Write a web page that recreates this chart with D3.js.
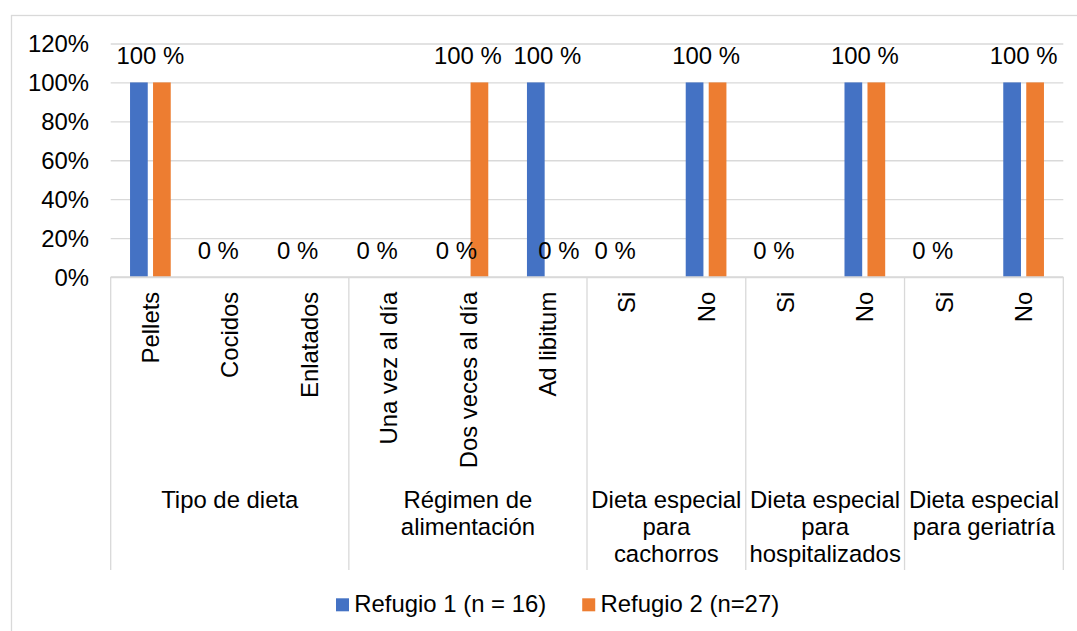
<!DOCTYPE html>
<html>
<head>
<meta charset="utf-8">
<script src="https://cdn.jsdelivr.net/npm/d3@7"></script>
<style>
  html, body { margin: 0; padding: 0; background: #fff; }
  svg { display: block; }
  text { font-family: "Liberation Sans", Arial, sans-serif; fill: #000; }
</style>
</head>
<body>
<svg id="chart" width="1077" height="631"></svg>
<script>
// ---- data ----
const categories = ["Pellets", "Cocidos", "Enlatados", "Una vez al día", "Dos veces al día", "Ad libitum", "Si", "No", "Si", "No", "Si", "No"];
const groupNames = [["Tipo de dieta"], ["Régimen de", "alimentación"], ["Dieta especial", "para", "cachorros"], ["Dieta especial", "para", "hospitalizados"], ["Dieta especial", "para geriatría"]];
const groupSizes = [3, 3, 2, 2, 2];
const seriesNames = ["Refugio 1 (n = 16)", "Refugio 2 (n=27)"];
const refugio1 = [1, 0, 0, 0, 0, 1, 0, 1, 0, 1, 0, 1];
const refugio2 = [1, 0, 0, 0, 1, 0, 0, 1, 0, 1, 0, 1];
const yTicks = [0, 0.2, 0.4, 0.6, 0.8, 1.0, 1.2];
const colors = ["#4472C4", "#ED7D31"];

// ---- layout ----
const FS = 23.9;
const plot = { left: 110.7, right: 1063.3, top: 43.5, bottom: 277 };
const svg = d3.select("#chart");
const gridColor = "#d9d9d9";

// outer chart border (extends beyond picture on right/bottom)
svg.append("rect")
  .attr("x", 11.5).attr("y", 15.5)
  .attr("width", 1100).attr("height", 700)
  .attr("fill", "none").attr("stroke", gridColor).attr("stroke-width", 1.3);

const idx = categories.map((d, i) => i);
const x0 = d3.scaleBand().domain(idx).range([plot.left, plot.right]).padding(0);
const x1 = d3.scaleBand().domain([0, 1]).range([0, x0.bandwidth()]).paddingInner(0.23).paddingOuter(0.841);
const y = d3.scaleLinear().domain([0, 1.2]).range([plot.bottom, plot.top]);

// gridlines
const grid = svg.append("g").attr("transform", `translate(${plot.left},0)`)
  .call(d3.axisLeft(y).tickValues(yTicks).tickSize(-(plot.right - plot.left)).tickFormat(""));
grid.select(".domain").remove();
grid.selectAll("line").attr("stroke", gridColor).attr("stroke-width", 1.3);

// y tick labels
const yAxis = svg.append("g").attr("transform", `translate(89,0)`)
  .call(d3.axisLeft(y).tickValues(yTicks).tickSize(0).tickPadding(0).tickFormat(d3.format(".0%")));
yAxis.select(".domain").remove();
yAxis.selectAll("text").attr("font-size", FS).attr("font-family", "Liberation Sans, Arial, sans-serif").attr("fill", "#000").attr("dy", "0.35em");

// bars
const series = [refugio1, refugio2];
series.forEach((vals, s) => {
  svg.append("g").selectAll("rect").data(vals).join("rect")
    .attr("x", (v, i) => x0(i) + x1(s))
    .attr("y", v => y(v))
    .attr("width", x1.bandwidth())
    .attr("height", v => y(0) - y(v))
    .attr("fill", colors[s]);
});

// data labels
const labels = [];
idx.forEach(i => {
  series.forEach((vals, s) => {
    const v = vals[i];
    if (s === 1 && v === refugio1[i]) return; // overlapping duplicate label
    const cx = v >= 1 ? x0(i) + x0.bandwidth() / 2 : x0(i) + x1(s) + x1.bandwidth() / 2;
    labels.push({ v, cx });
  });
});
svg.append("g").selectAll("text").data(labels).join("text")
  .attr("x", d => d.cx)
  .attr("y", d => y(d.v) - 18)
  .attr("text-anchor", "middle")
  .attr("font-size", FS)
  .text(d => Math.round(d.v * 100) + " %");

// category axis line
svg.append("line")
  .attr("x1", plot.left).attr("x2", plot.right)
  .attr("y1", y(0)).attr("y2", y(0))
  .attr("stroke", gridColor).attr("stroke-width", 1.3);

// group dividers
const bounds = [0];
groupSizes.forEach((n, g) => bounds.push(bounds[g] + n));
const boundX = k => k >= categories.length ? plot.right : x0(k);
svg.append("g").selectAll("line").data(bounds).join("line")
  .attr("x1", k => boundX(k)).attr("x2", k => boundX(k))
  .attr("y1", y(0)).attr("y2", 570)
  .attr("stroke", gridColor).attr("stroke-width", 1.3);

// rotated category labels
svg.append("g").selectAll("text").data(idx).join("text")
  .attr("transform", i => `translate(${x0(i) + x0.bandwidth() / 2},291.7) rotate(-90)`)
  .attr("text-anchor", "end")
  .attr("dy", "0.36em")
  .attr("font-size", FS)
  .text(i => categories[i]);

// group labels
groupNames.forEach((lines, g) => {
  const cx = (boundX(bounds[g]) + boundX(bounds[g + 1])) / 2;
  const t = svg.append("text").attr("text-anchor", "middle").attr("font-size", FS);
  lines.forEach((ln, j) => {
    t.append("tspan").attr("x", cx).attr("y", 508 + j * 27).text(ln);
  });
});

// legend
const legend = svg.append("g");
let lx = 336;
seriesNames.forEach((name, s) => {
  legend.append("rect").attr("x", lx).attr("y", 598.3).attr("width", 13).attr("height", 13).attr("fill", colors[s]);
  const t = legend.append("text").attr("x", lx + 18.3).attr("y", 612).attr("font-size", FS).text(name);
  lx += 18.3 + t.node().getComputedTextLength() + 36;
});
</script>
</body>
</html>
